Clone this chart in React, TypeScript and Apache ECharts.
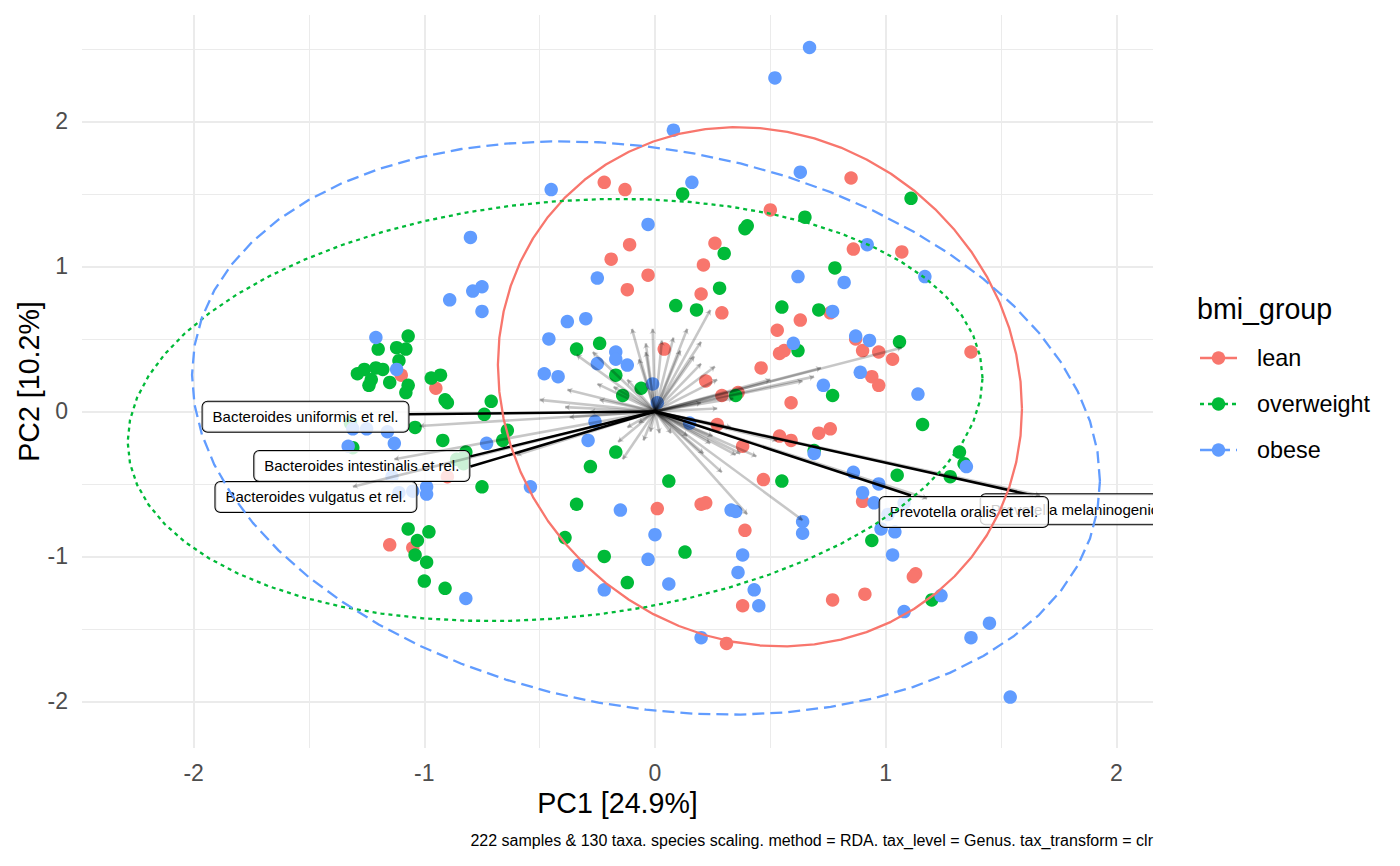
import React, { useEffect, useRef } from "react";
import * as echarts from "echarts";

const FONT = '"Liberation Sans", Arial, Helvetica, sans-serif';

// ---- axes ----
const X_MIN = -2.484;
const X_MAX = 2.159;
const Y_MIN = -2.321;
const Y_MAX = 2.734;
const xTickValues = [-2, -1, 0, 1, 2];
const yTickValues = [-2, -1, 0, 1, 2];
const xMinorValues = [-1.5, -0.5, 0.5, 1.5];
const yMinorValues = [-1.5, -0.5, 0.5, 1.5, 2.5];

const xTitle = "PC1 [24.9%]";
const yTitle = "PC2 [10.2%]";
const caption =
  "222 samples & 130 taxa. species scaling. method = RDA. tax_level = Genus. tax_transform = clr";

// ---- groups ----
const groupNames = ["lean", "overweight", "obese"];
const groupColors = ["#F8766D", "#00BA38", "#619CFF"];
const groupDash: (number[] | "solid")[] = ["solid", [4, 4], [12, 6]];

// ---- sample scores (PC1, PC2) ----
const leanPoints: [number, number][] = [
  [-0.22, 1.58], [-0.13, 1.53], [-0.11, 1.15], [-0.19, 1.05], [0.26, 1.16], [0.21, 1.01],
  [-0.03, 0.94], [-0.12, 0.84], [0.2, 0.81], [0.29, 0.68], [0.04, 0.43], [0.22, 0.21],
  [-1.1, 0.25], [-0.95, 0.16], [0.85, 1.61], [0.5, 1.39], [0.86, 1.12], [1.07, 1.1],
  [0.76, 0.68], [0.63, 0.63], [0.53, 0.56], [0.54, 0.4], [0.56, 0.42], [0.87, 0.5],
  [0.9, 0.42], [0.97, 0.41], [1.03, 0.36], [1.37, 0.41], [0.46, 0.3], [0.94, 0.24],
  [0.97, 0.18], [0.29, 0.11], [0.36, 0.13], [0.59, 0.06], [0.71, -0.15], [0.54, -0.17],
  [0.59, -0.2], [0.27, -0.09], [0.38, -0.24], [0.47, -0.47], [0.2, -0.64], [0.22, -0.63],
  [0.39, -0.82], [0.01, -0.67], [0.38, -1.34], [0.31, -1.6], [0.76, -0.12], [0.9, -0.62],
  [1.13, -1.12], [1.12, -1.14], [0.91, -1.26], [0.77, -1.3], [-1.15, -0.92], [-1.05, -0.94],
  [-0.9, -0.45],
];

const overweightPoints: [number, number][] = [
  [0.12, 1.5], [0.39, 1.26], [0.4, 1.28], [0.3, 1.09], [0.28, 0.85], [0.09, 0.73],
  [0.18, 0.7], [-0.34, 0.43], [-0.24, 0.47], [-0.17, 0.25], [-0.06, 0.16], [-1.2, 0.43],
  [-1.07, 0.52], [-1.12, 0.44], [-1.08, 0.43], [-1.11, 0.35], [-1.29, 0.26], [-1.26, 0.29],
  [-1.21, 0.3], [-1.18, 0.29], [-1.23, 0.22], [-1.24, 0.18], [-1.15, 0.2], [-1.07, 0.18],
  [-0.97, 0.23], [-0.93, 0.25], [1.11, 1.47], [0.65, 1.34], [0.78, 0.99], [0.55, 0.72],
  [0.71, 0.7], [0.62, 0.42], [1.06, 0.48], [-0.14, 0.11], [0.35, 0.11], [0.69, -0.27],
  [0.55, -0.48], [0.06, -0.48], [-0.34, -0.64], [-0.28, -0.38], [-0.17, -0.28], [-0.64, -0.13],
  [-0.66, -0.2], [-0.71, 0.07], [-0.74, -0.02], [-0.75, -0.52], [-0.39, -0.87], [-0.22, -1.0],
  [0.13, -0.97], [-0.12, -1.18], [0.77, 0.11], [1.16, -0.09], [1.32, -0.28], [1.34, -0.36],
  [1.05, -0.44], [1.28, -0.45], [0.94, -0.89], [1.2, -1.3], [-1.08, 0.13], [-0.91, 0.08],
  [-0.9, 0.06], [-1.04, -0.11], [-0.92, -0.2], [-0.82, -0.28], [-0.86, -0.33], [-0.83, -0.36],
  [-1.07, -0.81], [-0.98, -0.83], [-1.03, -0.89], [-1.04, -0.99], [-0.99, -1.04], [-1.0, -1.17],
  [-0.91, -1.22], [-1.31, -0.25], [-1.32, -0.08],
];

const obesePoints: [number, number][] = [
  [0.08, 1.94], [-0.45, 1.53], [0.16, 1.58], [-0.03, 1.29], [-0.25, 0.92], [-0.8, 1.2],
  [-0.75, 0.86], [-0.79, 0.83], [-0.89, 0.77], [-0.75, 0.69], [-0.38, 0.62], [-0.3, 0.64],
  [-0.46, 0.5], [-0.17, 0.41], [-0.17, 0.36], [-0.12, 0.32], [-0.25, 0.33], [-0.48, 0.26],
  [-0.42, 0.24], [-0.01, 0.19], [-1.21, 0.51], [-1.12, 0.29], [0.67, 2.51], [0.52, 2.3],
  [0.63, 1.65], [0.92, 1.15], [1.17, 0.93], [0.62, 0.93], [0.82, 0.89], [0.77, 0.69],
  [0.6, 0.47], [0.87, 0.52], [0.93, 0.49], [0.89, 0.27], [0.73, 0.18], [1.14, 0.12],
  [0.01, 0.06], [0.69, -0.29], [0.15, -0.08], [0.33, -0.68], [0.35, -0.69], [0.64, -0.76],
  [-0.15, -0.68], [-0.29, -0.2], [-0.26, -0.07], [-0.54, -0.52], [-0.73, -0.22], [0.64, -0.84],
  [0.0, -0.85], [-0.03, -1.02], [0.38, -0.99], [-0.33, -1.06], [0.36, -1.11], [0.06, -1.19],
  [-0.22, -1.23], [0.43, -1.23], [0.45, -1.34], [0.2, -1.56], [1.35, -0.38], [0.86, -0.42],
  [0.97, -0.5], [0.9, -0.56], [0.95, -0.63], [1.08, -0.63], [1.01, -0.71], [0.98, -0.81],
  [1.04, -0.83], [1.03, -0.99], [1.24, -1.27], [1.08, -1.38], [1.45, -1.46], [1.37, -1.56],
  [1.54, -1.97], [-1.31, -0.12], [-1.25, -0.12], [-1.16, -0.14], [-1.13, -0.22], [-1.33, -0.24],
  [-0.99, -0.52], [-0.99, -0.57], [-1.11, -0.56], [-1.05, -0.55], [-0.82, -1.29], [-1.14, -0.45],
];

const groupPoints = [leanPoints, overweightPoints, obesePoints];

// ---- 95% ellipses: centre, half-extents and shear ----
const ellipseCenterX = [0.455, -0.433, -0.039];
const ellipseCenterY = [0.17, 0.01, -0.114];
const ellipseHalfWidth = [1.136, 1.853, 1.968];
const ellipseHalfHeight = [1.784, 1.439, 1.943];
const ellipseShear = [-0.152, 0.22, -0.366];

// ---- taxa vectors (tips) ----
const greyArrowTips: [number, number][] = [
  [-0.1, 0.57], [-0.01, 0.57], [-0.04, 0.47], [0.03, 0.49], [0.08, 0.51], [0.14, 0.57],
  [0.2, 0.48], [0.24, 0.7], [0.2, 0.33], [0.26, 0.31], [0.27, 0.22], [0.72, 0.3],
  [0.69, 0.24], [0.5, 0.22], [0.64, 0.21], [1.07, 0.44], [0.27, 0.02], [0.44, -0.31],
  [0.53, -0.2], [0.29, -0.42], [0.37, -0.29], [0.4, -0.71], [0.64, -0.75], [1.18, -0.6],
  [-0.14, -0.33], [-0.05, -0.2], [-0.16, -0.21], [-0.5, 0.08], [-0.38, 0.15], [-0.39, 0.03],
  [-0.37, -0.04], [-0.6, -0.3], [-0.27, 0.41], [-0.34, 0.39], [-0.25, 0.19], [-1.02, -0.1],
  [-1.13, -0.33], [-1.31, -0.52], [1.67, -0.58], [-0.04, 0.41], [0.11, 0.42], [0.17, 0.38],
  [0.34, 0.09], [0.2, 0.06], [0.33, -0.11], [0.25, -0.17], [0.21, -0.29], [0.14, -0.17],
  [0.07, -0.15], [0.02, -0.15], [-0.02, -0.14], [-0.07, -0.08], [-0.12, -0.11], [-0.28, 0.0],
  [-0.24, 0.08], [-0.18, 0.17], [-0.12, 0.22], [-0.07, 0.36], [0.35, -0.3], [0.24, -0.22],
];

// labelled taxa (drawn in this order)
const taxaLabels = [
  "Prevotella melaninogenica et rel.",
  "Bacteroides uniformis et rel.",
  "Bacteroides intestinalis et rel.",
  "Bacteroides vulgatus et rel.",
  "Prevotella oralis et rel.",
];
const taxaLineEnds: [number, number][] = [
  [1.64, -0.58], [-1.07, -0.02], [-0.8, -0.31], [-0.8, -0.38], [1.11, -0.58],
];
const taxaLabelPos: [number, number][] = [
  [1.412, -0.674], [-1.515, -0.036], [-1.271, -0.376], [-1.47, -0.59], [1.339, -0.693],
];
const taxaLabelAlign = ["left", "center", "center", "center", "center"];

function ellipsePath(g: number): [number, number][] {
  const out: [number, number][] = [];
  const n = 60;
  for (let i = 0; i <= n; i++) {
    const t = (2 * Math.PI * i) / n;
    out.push([
      ellipseCenterX[g] + ellipseHalfWidth[g] * Math.cos(t),
      ellipseCenterY[g] + ellipseHalfHeight[g] * Math.sin(t) + ellipseShear[g] * Math.cos(t),
    ]);
  }
  return out;
}

export default function App() {
  const ref = useRef<HTMLDivElement>(null);

  useEffect(() => {
    if (!ref.current) return;
    const chart = echarts.init(ref.current, null, { renderer: "svg" });

    const gridSeries = [
      {
        type: "lines",
        coordinateSystem: "cartesian2d",
        silent: true,
        z: 0,
        lineStyle: { color: "#EBEBEB", width: 1, opacity: 1 },
        data: [
          ...xMinorValues.map((v) => ({ coords: [[v, Y_MIN], [v, Y_MAX]] })),
          ...yMinorValues.map((v) => ({ coords: [[X_MIN, v], [X_MAX, v]] })),
        ],
      },
      {
        type: "lines",
        coordinateSystem: "cartesian2d",
        silent: true,
        z: 0,
        lineStyle: { color: "#EBEBEB", width: 2, opacity: 1 },
        data: [
          ...xTickValues.map((v) => ({ coords: [[v, Y_MIN], [v, Y_MAX]] })),
          ...yTickValues.map((v) => ({ coords: [[X_MIN, v], [X_MAX, v]] })),
        ],
      },
    ];

    const pointSeries = groupNames.map((name, g) => ({
      name,
      type: "scatter",
      z: 2,
      symbol: "circle",
      symbolSize: 13.5,
      itemStyle: { color: groupColors[g], opacity: 1 },
      data: groupPoints[g],
    }));

    const ellipseSeries = groupNames.map((name, g) => ({
      name: name + " ellipse",
      type: "line",
      z: 6,
      showSymbol: false,
      symbol: "none",
      silent: true,
      lineStyle: { color: groupColors[g], width: 2.3, type: groupDash[g] },
      data: ellipsePath(g),
    }));

    const blackLines = {
      type: "lines",
      coordinateSystem: "cartesian2d",
      z: 3,
      silent: true,
      lineStyle: { color: "#000", width: 2.5, opacity: 1 },
      data: taxaLineEnds.map((p) => ({ coords: [[0, 0], p] })),
    };

    const labelSeries = {
      type: "custom",
      coordinateSystem: "cartesian2d",
      clip: true,
      z: 4,
      silent: true,
      data: taxaLabelPos.map((p, i) => [p[0], p[1], i]),
      renderItem: (_params: any, api: any) => {
        const i = api.value(2);
        const c = api.coord([api.value(0), api.value(1)]);
        return {
          type: "text",
          x: c[0],
          y: c[1],
          style: {
            text: taxaLabels[i],
            fontSize: 15,
            fontFamily: FONT,
            fill: "#000",
            align: taxaLabelAlign[i],
            verticalAlign: "middle",
            textAlign: taxaLabelAlign[i],
            textVerticalAlign: "middle",
            lineHeight: 18,
            backgroundColor: "rgba(255,255,255,0.8)",
            borderColor: "#000",
            borderWidth: 1,
            borderRadius: 5,
            padding: [6, 10],
          },
        };
      },
    };

    const greyArrows = {
      type: "lines",
      coordinateSystem: "cartesian2d",
      z: 5,
      silent: true,
      symbol: ["none", "arrow"],
      symbolSize: 5,
      lineStyle: { color: "rgba(0,0,0,0.22)", width: 2.6, opacity: 1 },
      data: greyArrowTips.map((p) => ({ coords: [[0, 0], p] })),
    };

    const legendY = [358, 404, 450];
    const legendGraphics: any[] = [
      {
        type: "text",
        x: 1197,
        y: 309,
        style: {
          text: "bmi_group",
          fontSize: 28.6,
          fontFamily: FONT,
          fill: "#000",
          textAlign: "left",
          textVerticalAlign: "middle",
          align: "left",
          verticalAlign: "middle",
        },
      },
    ];
    groupNames.forEach((name, g) => {
      legendGraphics.push({
        type: "line",
        shape: { x1: 1200, y1: legendY[g], x2: 1237, y2: legendY[g] },
        style: {
          stroke: groupColors[g],
          lineWidth: 2.3,
          lineDash: groupDash[g] === "solid" ? null : groupDash[g],
        },
      });
      legendGraphics.push({
        type: "circle",
        shape: { cx: 1218.5, cy: legendY[g], r: 6.7 },
        style: { fill: groupColors[g] },
      });
      legendGraphics.push({
        type: "text",
        x: 1257,
        y: legendY[g],
        style: {
          text: name,
          fontSize: 23.4,
          fontFamily: FONT,
          fill: "#000",
          textAlign: "left",
          textVerticalAlign: "middle",
          align: "left",
          verticalAlign: "middle",
        },
      });
    });

    const option: any = {
      animation: false,
      backgroundColor: "#ffffff",
      grid: { left: 82, top: 15, width: 1071, height: 733, containLabel: false },
      xAxis: {
        type: "value",
        min: X_MIN,
        max: X_MAX,
        axisLine: { show: false },
        axisTick: { show: false },
        splitLine: { show: false },
        axisLabel: {
          customValues: xTickValues,
          color: "#4D4D4D",
          fontSize: 23,
          fontFamily: FONT,
          margin: 13,
        },
      },
      yAxis: {
        type: "value",
        min: Y_MIN,
        max: Y_MAX,
        axisLine: { show: false },
        axisTick: { show: false },
        splitLine: { show: false },
        axisLabel: {
          customValues: yTickValues,
          color: "#4D4D4D",
          fontSize: 23,
          fontFamily: FONT,
          margin: 14,
        },
      },
      series: [
        ...gridSeries,
        ...pointSeries,
        blackLines,
        labelSeries,
        greyArrows,
        ...ellipseSeries,
      ],
      graphic: [
        {
          type: "text",
          x: 617.5,
          y: 803,
          style: {
            text: xTitle,
            fontSize: 28.6,
            fontFamily: FONT,
            fill: "#000",
            textAlign: "center",
            textVerticalAlign: "middle",
            align: "center",
            verticalAlign: "middle",
          },
        },
        {
          type: "text",
          x: 29,
          y: 381.5,
          rotation: Math.PI / 2,
          style: {
            text: yTitle,
            fontSize: 28.6,
            fontFamily: FONT,
            fill: "#000",
            textAlign: "center",
            textVerticalAlign: "middle",
            align: "center",
            verticalAlign: "middle",
          },
        },
        {
          type: "text",
          x: 1153,
          y: 840,
          style: {
            text: caption,
            fontSize: 16,
            fontFamily: FONT,
            fill: "#000",
            textAlign: "right",
            textVerticalAlign: "middle",
            align: "right",
            verticalAlign: "middle",
          },
        },
        ...legendGraphics,
      ],
    };

    chart.setOption(option);
    return () => chart.dispose();
  }, []);

  return (
    <div
      ref={ref}
      style={{ position: "absolute", left: 0, top: 0, width: 1400, height: 866, background: "#fff" }}
    />
  );
}
